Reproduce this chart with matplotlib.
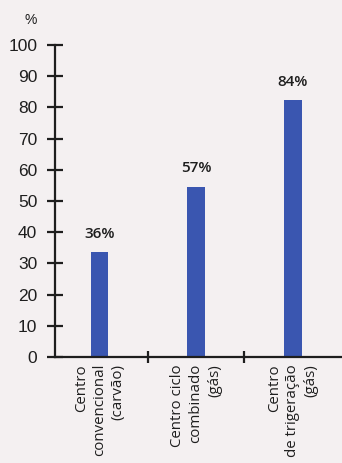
import matplotlib
matplotlib.use("Agg")
import matplotlib.pyplot as plt

categories = ["Centro\nconvencional\n(carvão)", "Centro ciclo\ncombinado\n(gás)", "Centro\nde trigeração\n(gás)"]
values = [33.5, 54.6, 82.4]
value_labels = ["36%", "57%", "84%"]
yticks = [0, 10, 20, 30, 40, 50, 60, 70, 80, 90, 100]

bg = "#f4f0f1"
bar_color = "#3a56b0"
ink = "#1e1e1e"

fig = plt.figure(figsize=(3.42, 4.63), dpi=100, facecolor=bg)
ax = fig.add_axes([0.161, 0.229, 0.839, 0.674], facecolor=bg)

x = [1, 2, 3]
bars = ax.bar(x, values, width=0.185, color=bar_color, zorder=2)

for xi, v, lab in zip(x, values, value_labels):
    ax.annotate(lab, (xi, v), xytext=(0, 8), textcoords="offset points",
                ha="center", va="bottom", fontsize=11, fontweight="semibold",
                family=["Open Sans", "DejaVu Sans"], color=ink)

ax.set_ylim(0, 100)
ax.set_xlim(0.54, 3.51)
ax.set_yticks(yticks)
ax.set_yticklabels([str(t) for t in yticks], family="Liberation Sans", fontsize=12.5, color=ink)
ax.tick_params(axis="y", direction="inout", length=11.5, width=1.6, pad=7, colors=ink)

ax.set_xticks([1.5, 2.5])
ax.set_xticklabels(["", ""])
ax.tick_params(axis="x", which="major", direction="inout", length=9, width=1.6, colors=ink)
ax.set_xticks(x, minor=True)
ax.set_xticklabels(categories, minor=True, rotation=90, ma="right",
                   family=["Open Sans", "DejaVu Sans"], fontsize=10.8, color=ink,
                   linespacing=1.3)
ax.tick_params(axis="x", which="minor", length=0, pad=5)

for s in ["top", "right"]:
    ax.spines[s].set_visible(False)
for s in ["left", "bottom"]:
    ax.spines[s].set_linewidth(1.6)
    ax.spines[s].set_color(ink)

fig.text(0.09, 0.957, "%", family="Liberation Sans", fontsize=10, color=ink,
         ha="center", va="center")

fig.savefig("out.png", dpi=100, facecolor=bg)
